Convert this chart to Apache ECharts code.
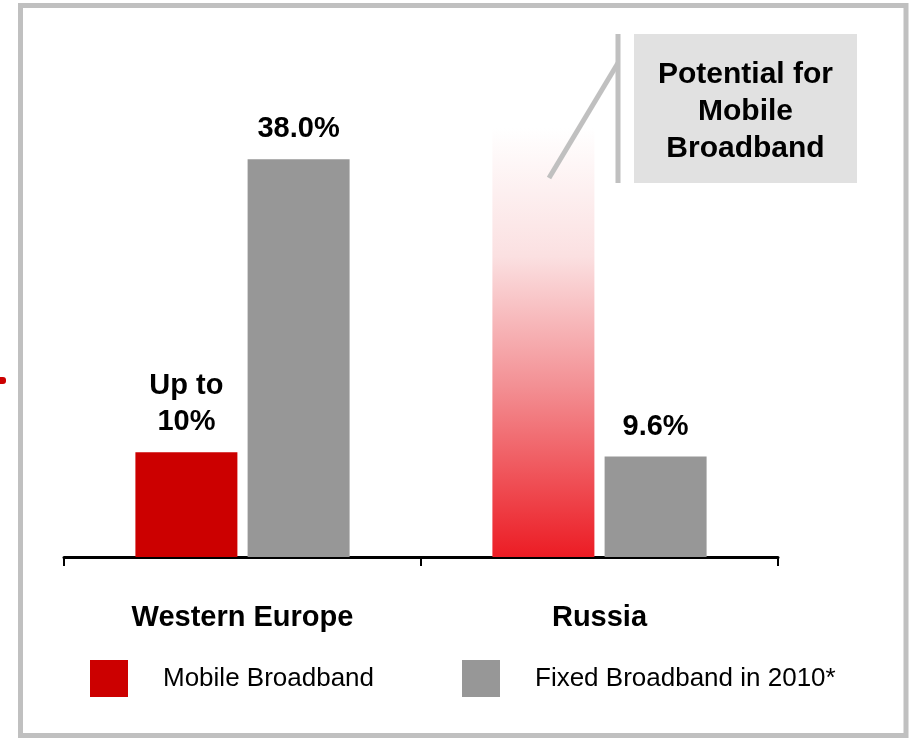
<!DOCTYPE html>
<html>
<head>
<meta charset="utf-8">
<script src="https://cdn.jsdelivr.net/npm/echarts@6/dist/echarts.min.js"></script>
<style>
  html, body { margin: 0; padding: 0; background: #fff; }
  #chart { width: 924px; height: 741px; }
</style>
</head>
<body>
<div id="chart"></div>
<script>
// Broadband penetration: Western Europe vs Russia
const categories = ['Western Europe', 'Russia'];
const mobileBroadband = [10, '-'];          // Western Europe: up to 10%
const mobilePotential = ['-', 41];          // Russia: headroom for mobile broadband
const fixedBroadband = [38.0, 9.6];         // fixed broadband in 2010
const seriesNames = ['Mobile Broadband', 'Fixed Broadband in 2010*'];

const FONT = 'Liberation Sans, Arial, sans-serif';
const RED = '#cc0000';
const GREY = '#979797';
const FRAME = '#c0c0c0';

const chart = echarts.init(document.getElementById('chart'), null, { renderer: 'canvas' });

const labelBase = {
  show: true,
  position: 'top',
  distance: 12,
  color: '#000',
  fontFamily: FONT,
  fontWeight: 'bold',
  fontSize: 29,
  lineHeight: 36
};

const legendBase = {
  top: 660, padding: 0, itemWidth: 38, itemHeight: 37, icon: 'rect',
  textStyle: { fontFamily: FONT, fontSize: 26, color: '#000', padding: [0, 0, 0, 30] },
  selectedMode: false
};

chart.setOption({
  backgroundColor: '#fff',
  animation: false,
  grid: { left: 64, width: 714, top: 86, bottom: 184 },
  xAxis: {
    type: 'category',
    data: categories,
    boundaryGap: true,
    axisLine: { show: true, lineStyle: { color: '#000', width: 3 } },
    axisTick: { show: true, length: 9, lineStyle: { color: '#000', width: 2 } },
    axisLabel: {
      color: '#000', fontFamily: FONT, fontWeight: 'bold', fontSize: 29, margin: 46
    },
    splitLine: { show: false }
  },
  yAxis: { type: 'value', min: 0, max: 45, show: false },
  legend: [
    Object.assign({}, legendBase, { left: 90, data: [seriesNames[0]] }),
    Object.assign({}, legendBase, { left: 462, data: [seriesNames[1]] })
  ],
  series: [
    {
      name: seriesNames[0],
      type: 'bar',
      stack: 'mobile',
      data: mobileBroadband,
      barWidth: 102,
      barGap: '10%',
      itemStyle: { color: RED },
      label: Object.assign({}, labelBase, { formatter: p => 'Up to\n' + p.value + '%' })
    },
    {
      name: 'Potential for Mobile Broadband',
      type: 'bar',
      stack: 'mobile',
      data: mobilePotential,
      barWidth: 102,
      barGap: '10%',
      itemStyle: {
        color: {
          type: 'linear', x: 0, y: 0, x2: 0, y2: 1,
          colorStops: [
            { offset: 0, color: '#ffffff' },
            { offset: 0.3, color: '#fbe0e1' },
            { offset: 0.6, color: '#f39094' },
            { offset: 1, color: '#ec1c24' }
          ]
        }
      },
      label: { show: false }
    },
    {
      name: seriesNames[1],
      type: 'bar',
      data: fixedBroadband,
      barWidth: 102,
      barGap: '10%',
      itemStyle: { color: GREY },
      label: Object.assign({}, labelBase, { formatter: p => p.value.toFixed(1) + '%' })
    }
  ],
  graphic: [
    // outer frame
    {
      type: 'rect', silent: true, z: 100,
      shape: { x: 20.5, y: 5.5, width: 885.5, height: 730 },
      style: { fill: 'none', stroke: FRAME, lineWidth: 5 }
    },
    // small red marker at the left edge
    {
      type: 'rect', silent: true, z: 100,
      shape: { x: 0, y: 377, width: 6, height: 7, r: [0, 3, 3, 0] },
      style: { fill: RED }
    },
    // callout box
    {
      type: 'rect', silent: true, z: 100,
      shape: { x: 634, y: 34, width: 223, height: 149 },
      style: { fill: '#e1e1e1' }
    },
    {
      type: 'text', silent: true, z: 101,
      x: 745.5, y: 112,
      style: {
        text: 'Potential for\nMobile\nBroadband',
        fill: '#000', font: 'bold 30px ' + FONT, lineHeight: 37,
        align: 'center', verticalAlign: 'middle'
      }
    },
    // callout pointer
    {
      type: 'line', silent: true, z: 100,
      shape: { x1: 618, y1: 34, x2: 618, y2: 183 },
      style: { stroke: FRAME, lineWidth: 5 }
    },
    {
      type: 'line', silent: true, z: 100,
      shape: { x1: 618, y1: 63, x2: 549, y2: 178 },
      style: { stroke: FRAME, lineWidth: 5 }
    }
  ]
});
</script>
</body>
</html>
